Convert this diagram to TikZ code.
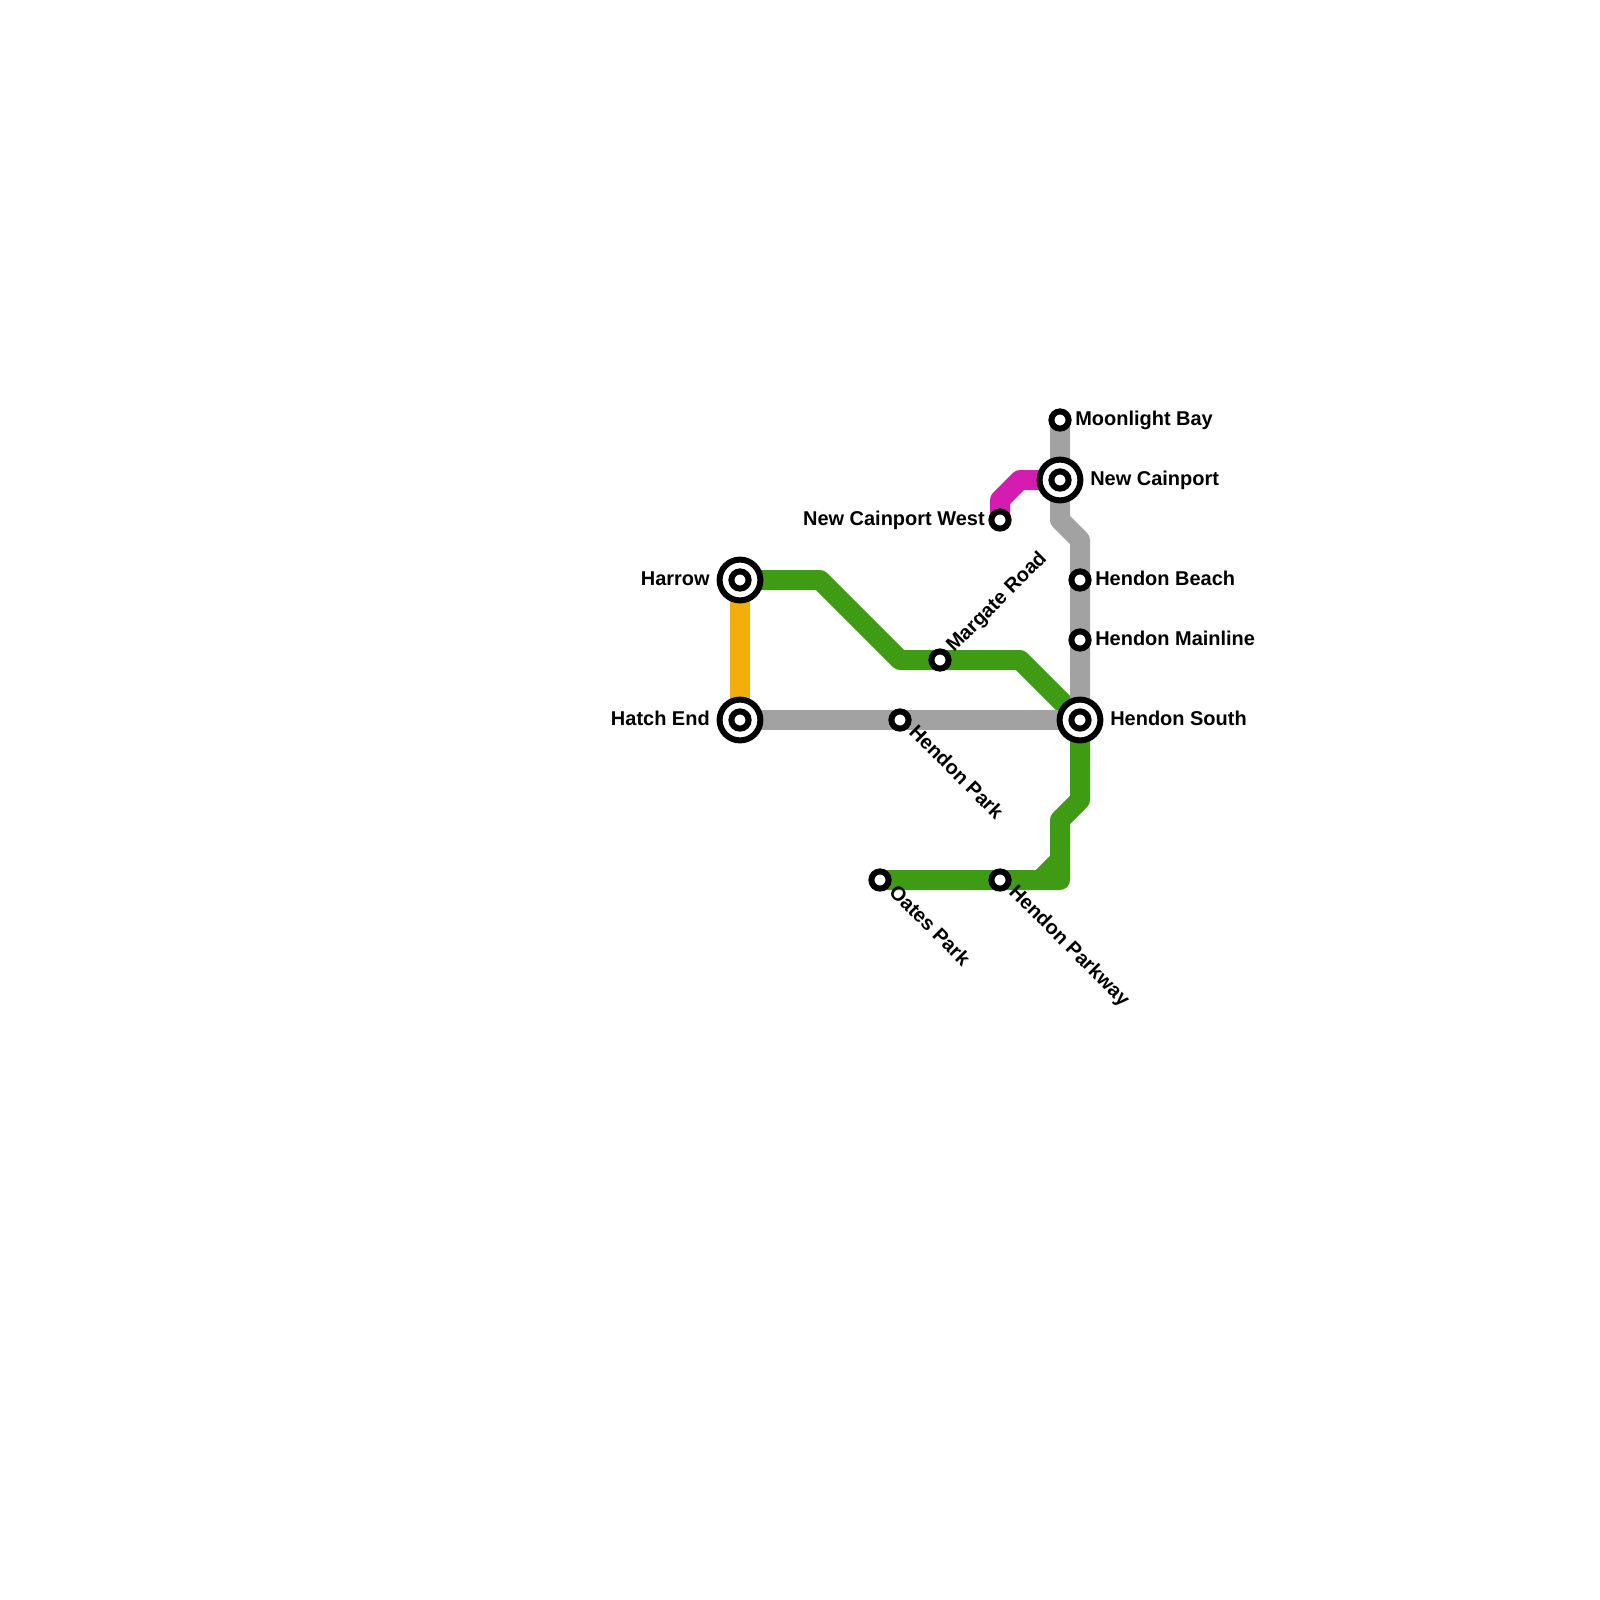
\documentclass[tikz,border=0pt]{standalone}
\usepackage{fontspec}
\setmainfont{Liberation Sans}
\usetikzlibrary{calc,backgrounds}
\definecolor{lineGreen}{HTML}{3F9B14}
\definecolor{lineGrey}{HTML}{A2A2A2}
\definecolor{lineOrange}{HTML}{F4AE0C}
\definecolor{lineMagenta}{HTML}{D41CB0}
\tikzset{
  route/.style={line width=0.5cm, line join=round, line cap=round},
  stop/.style={circle, draw=black, fill=white, line width=0.15cm, minimum size=0.43cm, inner sep=0pt},
  hub/.style={circle, draw=black, fill=white, line width=0.15cm, minimum size=1.02cm, inner sep=0pt},
  stoplabel/.style={font=\bfseries\fontsize{14.2}{16}\selectfont, inner sep=0pt},
}

\begin{document}
\begin{tikzpicture}[x=0.025cm, y=-0.025cm]
  \useasboundingbox (0,0) rectangle (1600,1600);
  % ------- interchanges -------
  \node[hub] (harrow) at (740,580) {};
  \node[stop] (harrowIn) at (harrow) {};
  \node[hub] (hatchEnd) at (740,720) {};
  \node[stop] (hatchEndIn) at (hatchEnd) {};
  \node[hub] (hendonSouth) at (1080,720) {};
  \node[stop] (hendonSouthIn) at (hendonSouth) {};
  \node[hub] (newCainport) at (1060,480) {};
  \node[stop] (newCainportIn) at (newCainport) {};
  % ------- plain stops -------
  \node[stop] (moonlightBay) at (1060,420) {};
  \node[stop] (cainportWest) at (1000,520) {};
  \node[stop] (hendonBeach) at (1080,580) {};
  \node[stop] (hendonMainline) at (1080,640) {};
  \node[stop] (margateRoad) at (940,660) {};
  \node[stop] (hendonPark) at (900,720) {};
  \node[stop] (oatesPark) at (880,880) {};
  \node[stop] (hendonParkway) at (1000,880) {};
  % ------- routes -------
  \begin{scope}[on background layer]
    \draw[route, lineOrange] (harrow.center) -- (hatchEnd.center);
    \draw[route, lineGreen] (harrow.center) -- (820,580) -- (900,660) -- (margateRoad.center)
      -- (1020,660) -- (hendonSouth.center) -- (1080,800) -- (1060,820) -- (1060,880)
      -- (hendonParkway.center) -- (oatesPark.center);
    \draw[route, lineGreen] (1060,860) -- (1040,880);
    \draw[route, lineMagenta] (cainportWest.center) -- (1000,500) -- (1020,480) -- (newCainport.center);
    \draw[route, lineGrey] (hatchEnd.center) -- (hendonPark.center) -- (hendonSouth.center);
    \draw[route, lineGrey] (moonlightBay.center) -- (newCainport.center) -- (1060,520) -- (1080,540)
      -- (hendonBeach.center) -- (hendonMainline.center) -- (hendonSouth.center);
  \end{scope}
  % ------- labels -------
  \node[stoplabel, anchor=base west] (moonlightBayText) at ($(moonlightBay)+(15,5)$) {Moonlight Bay};
  \node[stoplabel, anchor=base west] (newCainportText) at ($(newCainport)+(30,5)$) {New Cainport};
  \node[stoplabel, anchor=base west] (hendonBeachText) at ($(hendonBeach)+(15,5)$) {Hendon Beach};
  \node[stoplabel, anchor=base west] (hendonMainlineText) at ($(hendonMainline)+(15,5)$) {Hendon Mainline};
  \node[stoplabel, anchor=base west] (hendonSouthText) at ($(hendonSouth)+(30,5)$) {Hendon South};
  \node[stoplabel, anchor=base east] (harrowText) at ($(harrow)+(-30,5)$) {Harrow};
  \node[stoplabel, anchor=base east] (hatchEndText) at ($(hatchEnd)+(-30,5)$) {Hatch End};
  \node[stoplabel, anchor=base east] (cainportWestText) at ($(cainportWest)+(-15,5)$) {New Cainport West};
  \node[stoplabel, anchor=base west, rotate=45] (margateRoadText) at ($(margateRoad)+(14,-7)$) {Margate Road};
  \node[stoplabel, anchor=base west, rotate=-45] (hendonParkText) at ($(hendonPark)+(8,13)$) {Hendon Park};
  \node[stoplabel, anchor=base west, rotate=-45] (oatesParkText) at ($(oatesPark)+(8,13)$) {Oates Park};
  \node[stoplabel, anchor=base west, rotate=-45] (hendonParkwayText) at ($(hendonParkway)+(8,13)$) {Hendon Parkway};
\end{tikzpicture}
\end{document}
